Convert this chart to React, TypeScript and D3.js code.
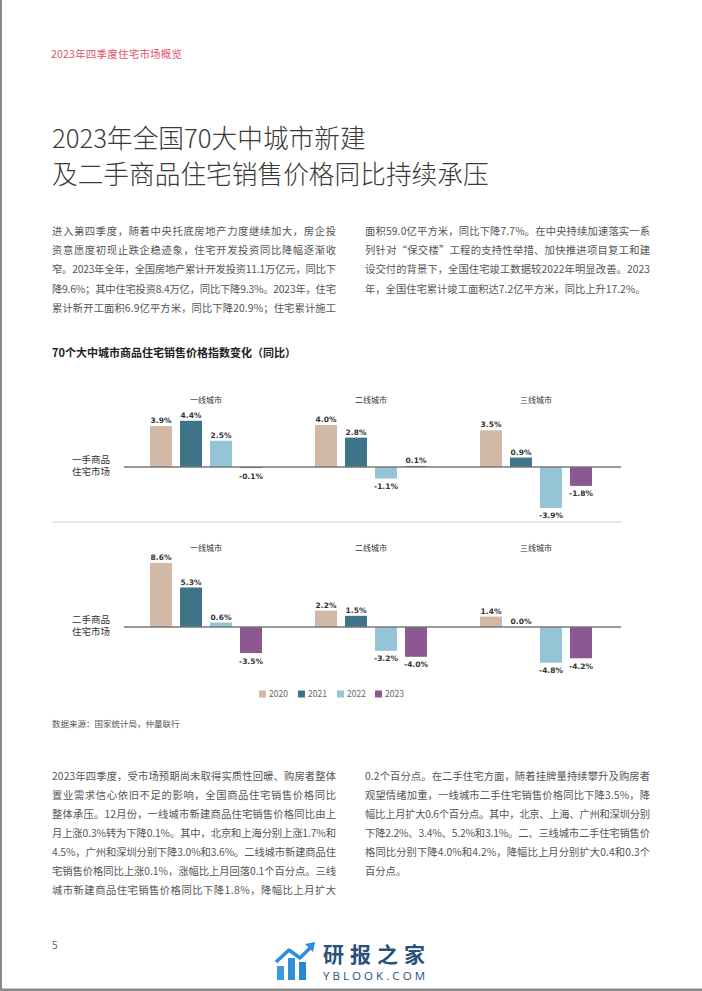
import React from "react";
import * as d3 from "d3";

const headerText = "2023年四季度住宅市场概览";
const titleLines = ["2023年全国70大中城市新建", "及二手商品住宅销售价格同比持续承压"];
const topLeftLines = [
  "进入第四季度，随着中央托底房地产力度继续加大，房企投",
  "资意愿度初现止跌企稳迹象，住宅开发投资同比降幅逐渐收",
  "窄。2023年全年，全国房地产累计开发投资11.1万亿元，同比下",
  "降9.6%；其中住宅投资8.4万亿，同比下降9.3%。2023年，住宅",
  "累计新开工面积6.9亿平方米，同比下降20.9%；住宅累计施工",
];
const topRightLines = [
  "面积59.0亿平方米，同比下降7.7%。在中央持续加速落实一系",
  "列针对“保交楼”工程的支持性举措、加快推进项目复工和建",
  "设交付的背景下，全国住宅竣工数据较2022年明显改善。2023",
  "年，全国住宅累计竣工面积达7.2亿平方米，同比上升17.2%。",
];
const bottomLeftLines = [
  "2023年四季度，受市场预期尚未取得实质性回暖、购房者整体",
  "置业需求信心依旧不足的影响，全国商品住宅销售价格同比",
  "整体承压。12月份，一线城市新建商品住宅销售价格同比由上",
  "月上涨0.3%转为下降0.1%。其中，北京和上海分别上涨1.7%和",
  "4.5%，广州和深圳分别下降3.0%和3.6%。二线城市新建商品住",
  "宅销售价格同比上涨0.1%，涨幅比上月回落0.1个百分点。三线",
  "城市新建商品住宅销售价格同比下降1.8%，降幅比上月扩大",
];
const bottomRightLines = [
  "0.2个百分点。在二手住宅方面，随着挂牌量持续攀升及购房者",
  "观望情绪加重，一线城市二手住宅销售价格同比下降3.5%，降",
  "幅比上月扩大0.6个百分点。其中，北京、上海、广州和深圳分别",
  "下降2.2%、3.4%、5.2%和3.1%。二、三线城市二手住宅销售价",
  "格同比分别下降4.0%和4.2%，降幅比上月分别扩大0.4和0.3个",
  "百分点。",
];
const chartTitle = "70个大中城市商品住宅销售价格指数变化（同比）";
const sourceText = "数据来源：国家统计局，仲量联行";
const cities = ["一线城市", "二线城市", "三线城市"];
const years = ["2020", "2021", "2022", "2023"];
const newHomeValues = [
  [3.9, 4.4, 2.5, -0.1],
  [4.0, 2.8, -1.1, 0.1],
  [3.5, 0.9, -3.9, -1.8],
];
const resaleValues = [
  [8.6, 5.3, 0.6, -3.5],
  [2.2, 1.5, -3.2, -4.0],
  [1.4, 0.0, -4.8, -4.2],
];
const rowLabels = [
  ["一手商品", "住宅市场"],
  ["二手商品", "住宅市场"],
];
const yearColors = ["#d2b8a6", "#3e7488", "#95c4d6", "#8d5891"];

const CJK = "'Noto Sans CJK SC', 'Noto Sans', sans-serif";
const fmt = d3
  .formatLocale({ decimal: ".", thousands: ",", grouping: [3], currency: ["", ""], minus: "-" })
  .format(".1f");

function Para({ lines, x, y, width, lineH, justifyLast }: any) {
  return (
    <g>
      {lines.map((l: string, i: number) => {
        const justify = i < lines.length - 1 || justifyLast;
        return (
          <text
            key={i}
            x={x}
            y={y + i * lineH}
            fontSize={10.3}
            fill="#555"
            fontFamily={CJK}
            {...(justify ? { textLength: width, lengthAdjust: "spacing" } : {})}
          >
            {l}
          </text>
        );
      })}
    </g>
  );
}

function Panel({ values, zeroY, pxPer, groupLabelY, labels }: any) {
  const x0 = d3.scaleBand().domain(cities).range([150, 592]).paddingInner(53 / 165).paddingOuter(0);
  const x1 = d3.scaleBand().domain(years).range([0, x0.bandwidth()]).paddingInner(8 / 30);
  const y = d3.scaleLinear().domain([-5, 9]).range([zeroY + 5 * pxPer, zeroY - 9 * pxPer]);
  return (
    <g>
      {cities.map((c, ci) => (
        <g key={c}>
          <text
            x={(x0(c) as number) + x0.bandwidth() / 2}
            y={groupLabelY + 3}
            fontSize={8}
            fill="#333"
            textAnchor="middle"
            fontFamily={CJK}
          >
            {c}
          </text>
          {years.map((yr, yi) => {
            const v = values[ci][yi];
            const bx = (x0(c) as number) + (x1(yr) as number);
            const top = Math.min(y(v), y(0));
            const h = Math.abs(y(v) - y(0));
            const cx = bx + x1.bandwidth() / 2;
            const ly = v >= 0 ? y(v) - 3 : y(v) + 10.5;
            return (
              <g key={yr}>
                <rect x={bx} y={top} width={x1.bandwidth()} height={Math.max(h, 0)} fill={yearColors[yi]} />
                <text
                  x={cx}
                  y={ly}
                  fontSize={7.5}
                  fontWeight="bold"
                  fill="#333"
                  textAnchor="middle"
                  fontFamily="'DejaVu Sans', sans-serif"
                >
                  {fmt(v) + "%"}
                </text>
              </g>
            );
          })}
        </g>
      ))}
      <line x1={124} x2={621} y1={y(0)} y2={y(0)} stroke="#777" strokeWidth={1.3} />
      <text x={110} y={zeroY - 8 + 3.5} fontSize={9.5} fill="#333" textAnchor="end" fontFamily={CJK}>
        {labels[0]}
      </text>
      <text x={110} y={zeroY + 4.5 + 3.5} fontSize={9.5} fill="#333" textAnchor="end" fontFamily={CJK}>
        {labels[1]}
      </text>
    </g>
  );
}

export default function App() {
  const legendX = [259, 298, 337, 375];
  return (
    <svg
      width={702}
      height={991}
      style={{ position: "absolute", left: 0, top: 0, background: "#fff" }}
      fontFamily={CJK}
    >
      <rect x={0} y={0} width={702} height={991} fill="#fff" />
      <rect x={0} y={0} width={2} height={991} fill="#8a8a8a" />
      <rect x={0} y={988.5} width={702} height={2.5} fill="#8a8a8a" />
      <text x={51} y={58} fontSize={10.5} fill="#e05468" textLength={131} lengthAdjust="spacing">
        {headerText}
      </text>
      {titleLines.map((t, i) => (
        <text key={i} x={52} y={148 + i * 35.5} fontSize={25.7} fontWeight={300} fill="#3a3a3a">
          {t}
        </text>
      ))}
      <Para lines={topLeftLines} x={52} y={235} width={284} lineH={19.2} justifyLast={true} />
      <Para lines={topRightLines} x={365} y={235} width={285} lineH={19.2} justifyLast={false} />

      <text x={52} y={357} fontSize={11} fontWeight="bold" fill="#222">
        {chartTitle}
      </text>
      <Panel values={newHomeValues} zeroY={467} pxPer={10.5} groupLabelY={399.5} labels={rowLabels[0]} />
      <line x1={52} x2={622} y1={522} y2={522} stroke="#c8c8c8" strokeWidth={0.8} />
      <Panel values={resaleValues} zeroY={627} pxPer={7.45} groupLabelY={547.5} labels={rowLabels[1]} />

      {years.map((yr, i) => (
        <g key={yr}>
          <rect x={legendX[i]} y={690.5} width={7} height={7} fill={yearColors[i]} />
          <text x={legendX[i] + 10} y={697} fontSize={8.5} fill="#666">
            {yr}
          </text>
        </g>
      ))}
      <text x={52} y={727} fontSize={8.5} fill="#555">
        {sourceText}
      </text>

      <Para lines={bottomLeftLines} x={52} y={780} width={284} lineH={19} justifyLast={true} />
      <Para lines={bottomRightLines} x={365} y={780} width={285} lineH={19} justifyLast={false} />

      <text x={52} y={949} fontSize={10} fill="#666">5</text>

      <g>
        <rect x={277} y={966} width={7} height={14} fill="#3a9ae0" />
        <rect x={288} y={958} width={7} height={22} fill="#2f8fd8" />
        <rect x={299} y={962} width={7} height={18} fill="#2a86d0" />
        <polyline
          points="276,962 289,950 300,958 313,945"
          fill="none"
          stroke="#2a8de0"
          strokeWidth={3.5}
          strokeLinejoin="round"
        />
        <polygon points="315,942 305,944 313,952" fill="#2a8de0" />
        <text x={323} y={962} fontSize={21} fontWeight="bold" fill="#27507c" textLength={102} lengthAdjust="spacing">
          研报之家
        </text>
        <text
          x={323}
          y={980}
          fontSize={11.5}
          fill="#27507c"
          fontFamily="'Open Sans', sans-serif"
          textLength={102}
          lengthAdjust="spacing"
        >
          YBLOOK.COM
        </text>
      </g>
    </svg>
  );
}
